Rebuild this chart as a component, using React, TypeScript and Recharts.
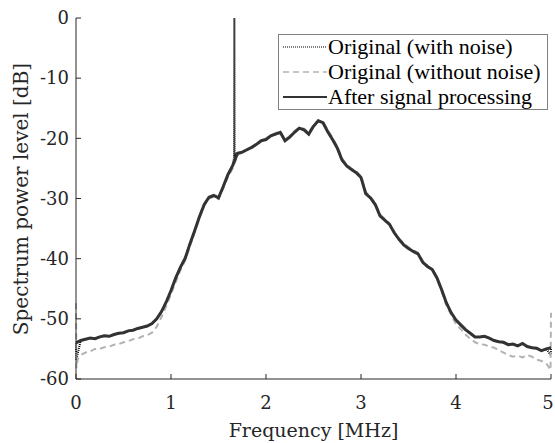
import React from "react";
import { LineChart, Line, XAxis, YAxis, Legend, Label } from "recharts";

// sample grid (MHz)
const FREQ = [
  0.0, 0.05, 0.1, 0.15, 0.2, 0.25, 0.3, 0.35, 0.4, 0.45,
  0.5, 0.55, 0.6, 0.65, 0.7, 0.75, 0.8, 0.85, 0.9, 0.95,
  1.0, 1.05, 1.1, 1.15, 1.2, 1.25, 1.3, 1.35, 1.4, 1.45,
  1.5, 1.55, 1.6, 1.65, 1.7, 1.75, 1.8, 1.85, 1.9, 1.95,
  2.0, 2.05, 2.1, 2.15, 2.2, 2.25, 2.3, 2.35, 2.4, 2.45,
  2.5, 2.55, 2.6, 2.65, 2.7, 2.75, 2.8, 2.85, 2.9, 2.95,
  3.0, 3.05, 3.1, 3.15, 3.2, 3.25, 3.3, 3.35, 3.4, 3.45,
  3.5, 3.55, 3.6, 3.65, 3.7, 3.75, 3.8, 3.85, 3.9, 3.95,
  4.0, 4.05, 4.1, 4.15, 4.2, 4.25, 4.3, 4.35, 4.4, 4.45,
  4.5, 4.55, 4.6, 4.65, 4.7, 4.75, 4.8, 4.85, 4.9, 4.95,
  5.0,
];

// after signal processing [dB]
const PROCESSED_DB = [
  -54.0, -53.6, -53.4, -53.2, -53.3, -53.0, -52.8, -52.9, -52.6, -52.4,
  -52.3, -52.0, -51.9, -51.6, -51.4, -51.2, -50.8, -50.0, -48.8, -47.2,
  -45.3, -43.2, -41.4, -39.9, -37.5, -35.3, -33.0, -31.0, -29.8, -29.5,
  -29.9, -28.0, -26.0, -24.5, -22.5, -22.3, -21.9, -21.5, -21.0, -20.4,
  -20.2, -19.6, -19.3, -19.0, -20.4, -19.8, -19.0, -18.3, -18.6, -19.3,
  -18.0, -17.1, -17.4, -18.9, -20.2, -21.6, -23.6, -24.6, -25.2, -25.7,
  -26.5, -29.2, -29.9, -31.0, -32.9, -33.6, -34.3, -35.7, -36.8, -37.7,
  -38.3, -38.8, -39.2, -40.6, -41.3, -41.8, -43.2, -45.2, -47.4, -49.0,
  -50.2, -51.0, -51.8, -52.4, -53.0, -53.0, -52.9, -53.2, -53.6, -53.8,
  -53.9, -54.3, -54.2, -54.5, -54.1, -54.6, -54.8, -54.9, -55.3, -55.0,
  -54.8,
];

// original without noise [dB]
const CLEAN_DB = [
  -47.4, -56.0, -55.6, -55.4, -55.0, -55.0, -54.7, -54.6, -54.3, -54.2,
  -53.9, -53.7, -53.4, -53.3, -52.9, -52.7, -52.3, -51.3, -49.7, -47.9,
  -45.9, -43.9, -41.9, -40.3, -37.9, -35.6, -33.3, -31.2, -30.0, -29.7,
  -30.1, -28.3, -26.4, -25.0, -22.8, -22.4, -21.8, -21.4, -20.9, -20.3,
  -20.0, -19.5, -19.1, -18.8, -20.2, -19.6, -18.8, -18.2, -18.4, -19.0,
  -17.8, -17.0, -17.2, -18.6, -19.9, -21.3, -23.3, -24.4, -25.0, -25.5,
  -26.3, -28.9, -29.7, -30.8, -32.6, -33.4, -34.1, -35.5, -36.6, -37.5,
  -38.1, -38.6, -39.0, -40.4, -41.2, -41.9, -43.4, -45.5, -47.8, -49.4,
  -50.9, -51.7, -52.6, -53.3, -53.9, -54.2, -54.3, -54.6, -54.8, -55.2,
  -55.6, -56.0, -56.3, -56.1, -56.4, -56.0, -56.3, -56.8, -57.0, -57.4,
  -49.0,
];
// extra samples at the band edges of the clean signal
const CLEAN_EDGE_F = [0.004, 0.02, 4.995];
const CLEAN_EDGE_DB = [-58.2, -56.6, -58.5];

// noisy original: follows the processed curve plus a narrow tone at 1.667 MHz
const NOISY_EXTRA_F = [0.003, 1.664, 1.667, 1.67, 4.997];
const NOISY_EXTRA_DB = [-56.8, -23.2, 0, -22.8, -56.0];

const X_TICKS = [0, 1, 2, 3, 4, 5];
const Y_TICKS = [-60, -50, -40, -30, -20, -10, 0];

const merge = (fa: number[], va: number[], fb: number[], vb: number[]) =>
  [
    ...fa.map((f, i) => ({ f, v: va[i] })),
    ...fb.map((f, i) => ({ f, v: vb[i] })),
  ].sort((a, b) => a.f - b.f);

const processedData = FREQ.map((f, i) => ({ f, v: PROCESSED_DB[i] }));
const cleanData = merge(FREQ, CLEAN_DB, CLEAN_EDGE_F, CLEAN_EDGE_DB);
const noisyData = merge(FREQ, PROCESSED_DB, NOISY_EXTRA_F, NOISY_EXTRA_DB);

const SERIF = "DejaVu Serif, Liberation Serif, serif";
const INK = "#262626";

const LEGEND_ITEMS = [
  { label: "Original (with noise)", color: "#000", dash: "1 1", width: 1.2 },
  { label: "Original (without noise)", color: "#b3b3b3", dash: "6 4", width: 1.5 },
  { label: "After signal processing", color: "#333", dash: undefined, width: 2 },
];

function XTick(props: any) {
  const { x, y, payload } = props;
  // keep the last label inside the picture
  const dx = payload.value === 5 ? -3 : 0;
  return (
    <text x={x} y={y} dx={dx} dy="0.71em" textAnchor="middle" fontSize={18} fontFamily={SERIF} fill={INK}>
      {payload.value}
    </text>
  );
}

function YTick(props: any) {
  const { x, y, payload } = props;
  return (
    <text x={x} y={y} dy="0.35em" textAnchor="end" fontSize={18} fontFamily={SERIF} fill={INK}>
      {payload.value}
    </text>
  );
}

function LegendBox() {
  return (
    <div
      style={{
        width: 268,
        height: 74,
        border: "1px solid #808080",
        background: "#fff",
        fontFamily: "'Liberation Serif', serif",
        fontSize: 22,
        color: "#000",
      }}
    >
      {LEGEND_ITEMS.map((it) => (
        <div key={it.label} style={{ display: "flex", alignItems: "center", height: 24.7, whiteSpace: "nowrap" }}>
          <svg width={48} height={10} style={{ flex: "none" }}>
            <line x1={4} y1={5} x2={48} y2={5} stroke={it.color} strokeWidth={it.width} strokeDasharray={it.dash} />
          </svg>
          <span style={{ marginLeft: 1 }}>{it.label}</span>
        </div>
      ))}
    </div>
  );
}

function YTitle() {
  return (
    <text
      x={22}
      y={199}
      transform="rotate(-90 22 199)"
      textAnchor="middle"
      dominantBaseline="middle"
      fontSize={20}
      fontFamily={SERIF}
      fill={INK}
    >
      Spectrum power level [dB]
    </text>
  );
}

function XTitle() {
  return (
    <text x={313.5} y={437} textAnchor="middle" fontSize={19} fontFamily={SERIF} fill={INK}>
      Frequency [MHz]
    </text>
  );
}

export default function App() {
  return (
    <div style={{ position: "absolute", left: 0, top: 0, background: "#fff" }}>
      <LineChart width={555} height={443} margin={{ top: 18, right: 4, bottom: 0, left: 0 }}>
        <XAxis
          xAxisId="b"
          dataKey="f"
          type="number"
          domain={[0, 5]}
          ticks={X_TICKS}
          allowDuplicatedCategory={false}
          height={64}
          stroke={INK}
          tickSize={-5}
          tickMargin={22}
          tick={<XTick />}
        >
          <Label content={<XTitle />} />
        </XAxis>
        <XAxis
          xAxisId="t"
          orientation="top"
          type="number"
          dataKey="f"
          domain={[0, 5]}
          ticks={X_TICKS}
          height={0}
          stroke={INK}
          tickSize={-5}
          tickFormatter={() => ""}
        />
        <YAxis
          yAxisId="l"
          type="number"
          domain={[-60, 0]}
          ticks={Y_TICKS}
          width={76}
          stroke={INK}
          tickSize={-5}
          tickMargin={12}
          tick={<YTick />}
          allowDataOverflow
        >
          <Label content={<YTitle />} />
        </YAxis>
        <YAxis
          yAxisId="r"
          orientation="right"
          type="number"
          domain={[-60, 0]}
          ticks={Y_TICKS}
          width={0}
          stroke={INK}
          tickSize={-5}
          tickFormatter={() => ""}
          allowDataOverflow
        />
        <Line
          xAxisId="b"
          yAxisId="l"
          data={noisyData}
          dataKey="v"
          stroke="#000"
          strokeWidth={2}
          strokeDasharray="1 1"
          dot={false}
          type="linear"
          isAnimationActive={false}
        />
        <Line
          xAxisId="b"
          yAxisId="l"
          data={cleanData}
          dataKey="v"
          stroke="#b3b3b3"
          strokeWidth={2}
          strokeDasharray="6 4"
          dot={false}
          type="linear"
          isAnimationActive={false}
        />
        <Line
          xAxisId="b"
          yAxisId="l"
          data={processedData}
          dataKey="v"
          stroke="#333"
          strokeWidth={3}
          dot={false}
          type="linear"
          isAnimationActive={false}
        />
        <Legend
          layout="vertical"
          align="center"
          verticalAlign="middle"
          content={<LegendBox />}
          wrapperStyle={{ position: "absolute", left: 278, top: 34, width: "auto", height: "auto" }}
        />
      </LineChart>
    </div>
  );
}
